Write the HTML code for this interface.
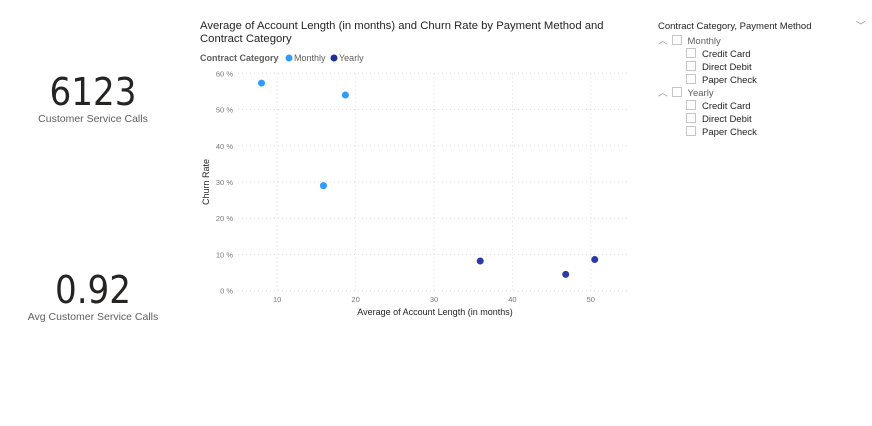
<!DOCTYPE html>
<html><head><meta charset="utf-8"><style>
body{margin:0;width:872px;height:426px;background:#fff;font-family:"Liberation Sans",sans-serif;overflow:hidden;position:relative}
.card{position:absolute;left:0;width:186px;text-align:center;color:#252423}
.num{font-size:38px;line-height:40px;font-family:"Liberation Sans Narrow","DejaVu Sans Condensed","Liberation Sans",sans-serif;}
.lbl{font-size:10.5px;color:#605e5c;margin-top:1px}
.slicer{position:absolute;left:658px;top:20px;font-size:9.5px;color:#252423}
.row{height:13px;line-height:13px;position:relative;white-space:nowrap}
.box{display:inline-block;width:8px;height:8px;border:1px solid #c8c6c4;vertical-align:-1px;margin-right:6px}
</style></head><body>
<div class="card" style="top:72px">
<div class="num">6123</div>
<div class="lbl">Customer Service Calls</div></div>
<div class="card" style="top:270px">
<div class="num">0.92</div>
<div class="lbl">Avg Customer Service Calls</div></div>

<svg id="chart" width="872" height="426" style="position:absolute;left:0;top:0">
<text x="200" y="29" font-size="11.3" fill="#252423">Average of Account Length (in months) and Churn Rate by Payment Method and</text>
<text x="200" y="42" font-size="11.3" fill="#252423">Contract Category</text>
<text x="200" y="61" font-size="9" font-weight="bold" fill="#605e5c">Contract Category</text>
<circle cx="289" cy="58" r="3.5" fill="#2f9bff"/>
<text x="294" y="61" font-size="9" fill="#605e5c">Monthly</text>
<circle cx="334" cy="58" r="3.5" fill="#1f2f9a"/>
<text x="339" y="61" font-size="9" fill="#605e5c">Yearly</text>
<text transform="translate(209,182) rotate(-90)" text-anchor="middle" font-size="9" fill="#252423">Churn Rate</text>
<text x="435" y="315" text-anchor="middle" font-size="9" fill="#252423">Average of Account Length (in months)</text>
<g id="grid"></g><g id="marks"></g>
</svg>

<div class="slicer">
<div class="row" style="margin-bottom:2px">Contract Category, Payment Method<span style="position:absolute;left:198px;color:#888">﹀</span></div>
<div class="row"><span style="color:#999;margin-right:4px">︿</span><span class="box"></span><span style="color:#605e5c">Monthly</span></div>
<div class="row" style="padding-left:28px"><span class="box"></span>Credit Card</div>
<div class="row" style="padding-left:28px"><span class="box"></span>Direct Debit</div>
<div class="row" style="padding-left:28px"><span class="box"></span>Paper Check</div>
<div class="row"><span style="color:#999;margin-right:4px">︿</span><span class="box"></span><span style="color:#605e5c">Yearly</span></div>
<div class="row" style="padding-left:28px"><span class="box"></span>Credit Card</div>
<div class="row" style="padding-left:28px"><span class="box"></span>Direct Debit</div>
<div class="row" style="padding-left:28px"><span class="box"></span>Paper Check</div>
</div>

<script>
const categories = ["Monthly","Monthly","Monthly","Yearly","Yearly","Yearly"];
const accountLength = [8.0, 18.7, 15.9, 35.9, 46.8, 50.5];
const churnRate = [57.3, 54.0, 29.0, 8.2, 4.5, 8.6];
const xTicks = [10, 20, 30, 40, 50];
const yTicks = [0, 10, 20, 30, 40, 50, 60];
const colors = {Monthly:"#2f9bff", Yearly:"#2c3aa8"};
const X0=238,X1=630,Y0=290.7,Y1=73.3,XMIN=5,XMAX=55,YMIN=0,YMAX=60;
const sx=v=>X0+(v-XMIN)/(XMAX-XMIN)*(X1-X0);
const sy=v=>Y0-(v-YMIN)/(YMAX-YMIN)*(Y0-Y1);
const NS="http://www.w3.org/2000/svg";
const grid=document.getElementById('grid'), marks=document.getElementById('marks');
yTicks.forEach(t=>{
  const l=document.createElementNS(NS,'line');
  l.setAttribute('x1',X0);l.setAttribute('x2',X1);l.setAttribute('y1',sy(t));l.setAttribute('y2',sy(t));
  l.setAttribute('stroke','#dcdcdc');l.setAttribute('stroke-dasharray','1 3');
  
  
  grid.appendChild(l);
  const tx=document.createElementNS(NS,'text');
  tx.setAttribute('x',233);tx.setAttribute('y',sy(t)+3);tx.setAttribute('text-anchor','end');
  tx.setAttribute('font-size','7.5');tx.setAttribute('fill','#777');tx.textContent=t+' %';
  
  
  grid.appendChild(tx);
});
xTicks.forEach(t=>{
  const l=document.createElementNS(NS,'line');
  l.setAttribute('x1',sx(t));l.setAttribute('x2',sx(t));l.setAttribute('y1',Y1);l.setAttribute('y2',Y0);
  l.setAttribute('stroke','#dcdcdc');l.setAttribute('stroke-dasharray','1 3');
  
  
  grid.appendChild(l);
  const tx=document.createElementNS(NS,'text');
  tx.setAttribute('x',sx(t));tx.setAttribute('y',302);tx.setAttribute('text-anchor','middle');
  tx.setAttribute('font-size','7.5');tx.setAttribute('fill','#777');tx.textContent=t;
  
  
  grid.appendChild(tx);
});
accountLength.forEach((v,i)=>{
  const c=document.createElementNS(NS,'circle');
  c.setAttribute('cx',sx(v));c.setAttribute('cy',sy(churnRate[i]));c.setAttribute('r',3.5);
  c.setAttribute('fill',colors[categories[i]]);
  
  
  marks.appendChild(c);
});
</script>
</body></html>
